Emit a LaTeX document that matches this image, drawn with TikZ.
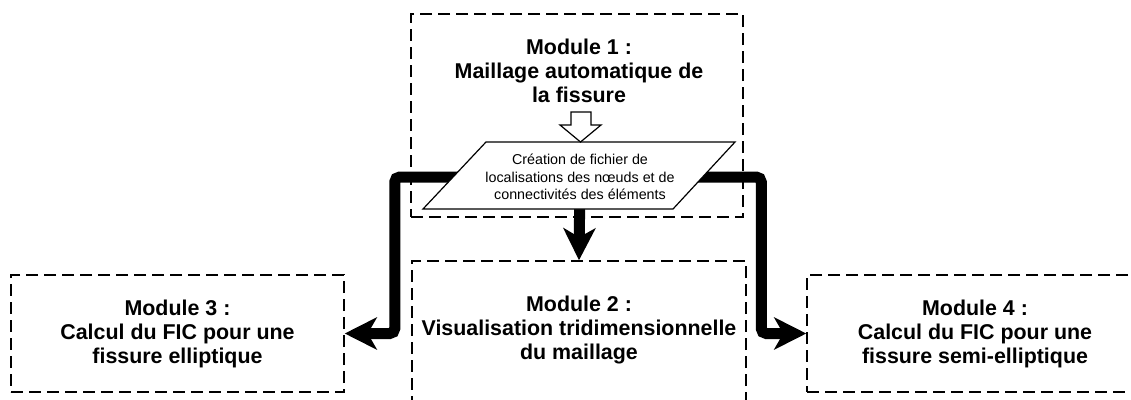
\documentclass[tikz,border=0pt]{standalone}
\usepackage{fontspec}
\setmainfont{Liberation Sans}
\usetikzlibrary{arrows.meta,backgrounds}
\begin{document}
\begin{tikzpicture}[x=1pt,y=-1pt,
  modbox/.style={draw, line width=1.5pt, dash pattern=on 12pt off 6pt, inner sep=0pt},
  modtext/.style={font=\fontsize{21.4}{24}\selectfont\bfseries, align=center, inner sep=0pt},
  smalltext/.style={font=\fontsize{14.3}{17.5}\selectfont, align=center, inner sep=0pt},
  flow/.style={line width=11pt, rounded corners=5pt, -{Stealth[length=32pt,width=32pt,inset=9pt]}},
  thinshape/.style={draw, line width=1.2pt, fill=white},
]
\useasboundingbox (0,0) rectangle (1131,399);
\clip (0,0) rectangle (1131,399);
% module boxes
\node[modbox, minimum width=332pt, minimum height=203pt] (m1) at (577,115.5) {};
\node[modtext] (m1t) at (579,71) {Module 1 :\\Maillage automatique de\\la fissure};
\node[modbox, minimum width=334pt, minimum height=169pt] (m2) at (579,345.5) {};
\node[modtext] (m2t) at (579,330) {Module 2 :\\Visualisation tridimensionnelle\\du maillage};
\node[modbox, modtext, minimum width=333pt, minimum height=117pt] (m3) at (177.5,333.5) {Module 3 :\\Calcul du FIC pour une\\fissure elliptique};
\node[modbox, modtext, minimum width=336pt, minimum height=117pt] (m4) at (975,333.5) {Module 4 :\\Calcul du FIC pour une\\fissure semi-elliptique};
% parallelogram
\draw[thinshape] (486,142) -- (735,142) -- (673,209) -- (423,209) -- cycle;
\node[smalltext] (para) at (580,177) {Création de fichier de\\localisations des nœuds et de\\connectivités des éléments};
% hollow arrow
\draw[thinshape] (571,112) -- (591,112) -- (591,125) -- (601,125) -- (580.5,142) -- (560,125) -- (571,125) -- cycle;
% connectors
\begin{pgfonlayer}{background}
\draw[flow] (para.center) -| ([xshift=50pt]m3.east) -- (m3.east);
\draw[flow] (para.center) -| ([xshift=-45pt]m4.west) -- (m4.west);
\draw[flow] (para.center) -- (m2.north);
\end{pgfonlayer}
\end{tikzpicture}
\end{document}
